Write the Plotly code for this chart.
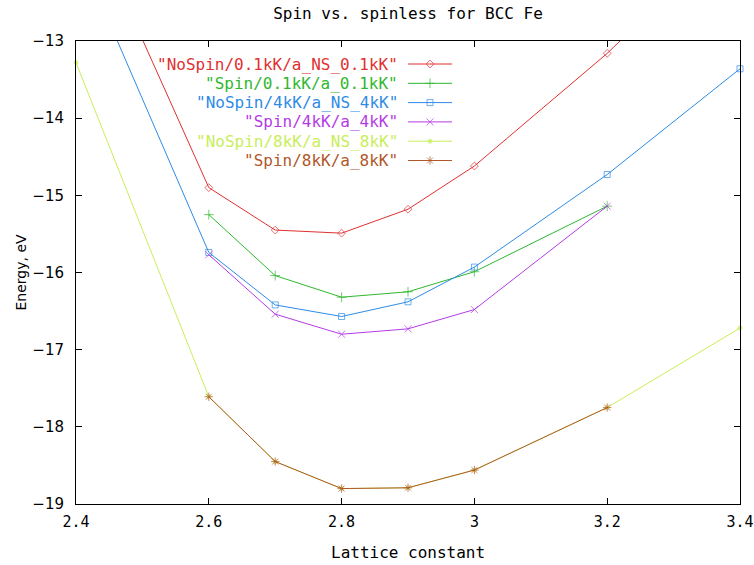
import plotly.graph_objects as go

# ---------------- data ----------------
x_ns01 = [2.4, 2.6, 2.7, 2.8, 2.9, 3.0, 3.2, 3.4]
e_ns01 = [-11.06, -14.90, -15.45, -15.49, -15.18, -14.62, -13.16, -11.50]

x_s01 = [2.6, 2.7, 2.8, 2.9, 3.0, 3.2]
e_s01 = [-15.25, -16.04, -16.32, -16.25, -15.99, -15.14]

x_ns4 = [2.4, 2.6, 2.7, 2.8, 2.9, 3.0, 3.2, 3.4]
e_ns4 = [-11.76, -15.74, -16.42, -16.57, -16.38, -15.93, -14.73, -13.36]

x_s4 = [2.6, 2.7, 2.8, 2.9, 3.0, 3.2]
e_s4 = [-15.77, -16.54, -16.80, -16.73, -16.48, -15.14]

x_ns8 = [2.4, 2.6, 2.7, 2.8, 2.9, 3.0, 3.2, 3.4]
e_ns8 = [-13.28, -17.61, -18.45, -18.80, -18.79, -18.56, -17.75, -16.72]

x_s8 = [2.6, 2.7, 2.8, 2.9, 3.0, 3.2]
e_s8 = [-17.61, -18.45, -18.80, -18.79, -18.56, -17.75]

labels = ['"NoSpin/0.1kK/a_NS_0.1kK"', '"Spin/0.1kK/a_0.1kK"', '"NoSpin/4kK/a_NS_4kK"',
          '"Spin/4kK/a_4kK"', '"NoSpin/8kK/a_NS_8kK"', '"Spin/8kK/a_8kK"']

x_ticks = [2.4, 2.6, 2.8, 3.0, 3.2, 3.4]
x_ticktext = ['2.4', '2.6', '2.8', '3', '3.2', '3.4']
y_ticks = [-19, -18, -17, -16, -15, -14, -13]

# ---------------- style ----------------
W, H = 754, 565
ML, MR, MT, MB = 76, 14, 41, 61
XR = [2.4, 3.4]
YR = [-19, -13]
MONO = "DejaVu Sans Mono"

colors = ['#e03030', '#2eb82e', '#2e8be6', '#b43ce6', '#c8ee5a', '#b0582a']
symbols = ['diamond-open', 'cross-thin-open', 'square-open', 'x-thin-open', 'circle', 'asterisk-open']
msizes = [6, 7, 6, 7, 4, 7]

series = [(x_ns01, e_ns01), (x_s01, e_s01), (x_ns4, e_ns4), (x_s4, e_s4), (x_ns8, e_ns8), (x_s8, e_s8)]

fig = go.Figure()

for i, (xs, ys) in enumerate(series):
    sizes = [msizes[i] if (YR[0] <= y <= YR[1]) else 0 for y in ys]
    fig.add_trace(go.Scatter(
        x=xs, y=ys, mode='lines+markers', name=labels[i],
        line=dict(color=colors[i], width=1),
        marker=dict(symbol=symbols[i], size=sizes, color=colors[i],
                    line=dict(color=colors[i], width=1)),
        cliponaxis=False, showlegend=False,
    ))

# ---------- custom gnuplot-style key (text left, sample right) ----------
key_text_right = 400
key_line = (408, 452)
key_y0 = 64
key_dy = 19.3
annotations = []
for i, lab in enumerate(labels):
    yk = key_y0 + i * key_dy
    xm = (key_line[0] + key_line[1]) / 2
    fig.add_trace(go.Scatter(
        x=[key_line[0], xm, key_line[1]], y=[yk, yk, yk], mode='lines+markers',
        xaxis='x2', yaxis='y2', showlegend=False, hoverinfo='skip',
        line=dict(color=colors[i], width=1),
        marker=dict(symbol=symbols[i], size=[0, msizes[i], 0], color=colors[i],
                    line=dict(color=colors[i], width=1)),
        cliponaxis=False,
    ))
    annotations.append(dict(
        x=key_text_right, y=yk, xref='x2', yref='y2', text=lab, showarrow=False,
        xanchor='right', yanchor='middle', font=dict(family=MONO, size=16, color=colors[i]),
    ))

pw = W - ML - MR
ph = H - MT - MB
# axis titles
annotations.append(dict(
    x=0.5, y=-(552 - (H - MB)) / ph, xref='paper', yref='paper', text='Lattice constant',
    showarrow=False, xanchor='center', yanchor='middle',
    font=dict(family=MONO, size=16, color='black')))
annotations.append(dict(
    x=-(ML - 20) / pw, y=0.5, xref='paper', yref='paper', text='Energy, eV',
    showarrow=False, xanchor='center', yanchor='middle', textangle=-90,
    font=dict(family="DejaVu Sans", size=14, color='black')))

axis_common = dict(
    showgrid=False, zeroline=False, showline=True, linecolor='black', linewidth=1,
    mirror='ticks', ticks='inside', ticklen=6, tickcolor='black', tickwidth=1,
    automargin=False,
)

fig.update_layout(
    width=W, height=H, autosize=False,
    margin=dict(l=ML, r=MR, t=MT, b=MB, pad=0),
    paper_bgcolor='white', plot_bgcolor='white',
    title=dict(text='Spin vs. spinless for BCC Fe', x=(ML + W - MR) / 2 / W,
               xanchor='center', y=1 - 13 / H, yanchor='middle', automargin=False,
               font=dict(family=MONO, size=16, color='black')),
    xaxis=dict(range=XR, tickvals=x_ticks, ticktext=x_ticktext,
               tickfont=dict(family=MONO, size=15, color='black'),
               ticklabelstandoff=4, **axis_common),
    yaxis=dict(range=YR, tickvals=y_ticks,
               tickfont=dict(family="DejaVu Sans", size=15, color='black'),
               ticklabelstandoff=8, **axis_common),
    xaxis2=dict(overlaying='x', range=[ML, W - MR], visible=False, fixedrange=True, automargin=False),
    yaxis2=dict(overlaying='y', range=[H - MB, MT], visible=False, fixedrange=True, automargin=False),
    annotations=annotations,
    showlegend=False,
)

fig.write_html("out.html")
